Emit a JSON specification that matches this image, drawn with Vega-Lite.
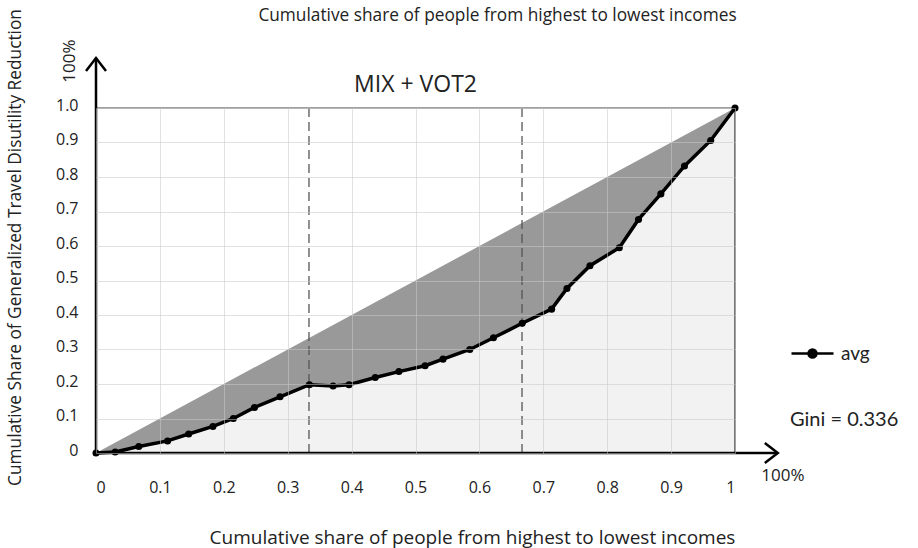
{
  "$schema": "https://vega.github.io/schema/vega-lite/v6.json",
  "width": 639,
  "height": 345,
  "autosize": {"type": "none"},
  "padding": {"left": 96, "top": 108, "right": 183, "bottom": 95},
  "background": "white",
  "config": {
    "view": {"stroke": null},
    "font": "Open Sans",
    "axis": {"labelColor": "#222", "titleColor": "#222", "labelOverlap": false}
  },
  "resolve": {"axis": {"x": "independent", "y": "independent"}},
  "datasets": {
    "curve": [
      {"share": 0, "cum": 0, "series": "avg"},
      {"share": 0.03, "cum": 0.003, "series": "avg"},
      {"share": 0.067, "cum": 0.019, "series": "avg"},
      {"share": 0.112, "cum": 0.035, "series": "avg"},
      {"share": 0.145, "cum": 0.055, "series": "avg"},
      {"share": 0.183, "cum": 0.077, "series": "avg"},
      {"share": 0.215, "cum": 0.1, "series": "avg"},
      {"share": 0.248, "cum": 0.132, "series": "avg"},
      {"share": 0.288, "cum": 0.163, "series": "avg"},
      {"share": 0.334, "cum": 0.198, "series": "avg"},
      {"share": 0.371, "cum": 0.194, "series": "avg"},
      {"share": 0.396, "cum": 0.198, "series": "avg"},
      {"share": 0.437, "cum": 0.219, "series": "avg"},
      {"share": 0.474, "cum": 0.236, "series": "avg"},
      {"share": 0.515, "cum": 0.253, "series": "avg"},
      {"share": 0.543, "cum": 0.272, "series": "avg"},
      {"share": 0.585, "cum": 0.3, "series": "avg"},
      {"share": 0.622, "cum": 0.334, "series": "avg"},
      {"share": 0.667, "cum": 0.376, "series": "avg"},
      {"share": 0.713, "cum": 0.417, "series": "avg"},
      {"share": 0.737, "cum": 0.477, "series": "avg"},
      {"share": 0.773, "cum": 0.543, "series": "avg"},
      {"share": 0.819, "cum": 0.595, "series": "avg"},
      {"share": 0.849, "cum": 0.677, "series": "avg"},
      {"share": 0.884, "cum": 0.751, "series": "avg"},
      {"share": 0.921, "cum": 0.832, "series": "avg"},
      {"share": 0.962, "cum": 0.906, "series": "avg"},
      {"share": 1, "cum": 1, "series": "avg"}
    ],
    "diag": [{"share": 0, "cum": 0}, {"share": 1, "cum": 1}],
    "thirds": [{"share": 0.3333}, {"share": 0.6667}]
  },
  "layer": [
    {
      "data": {"name": "diag"},
      "mark": {"type": "area", "color": "#999999"},
      "encoding": {
        "x": {
          "field": "share", "type": "quantitative",
          "scale": {"domain": [0, 1], "nice": false, "zero": true},
          "axis": {
            "orient": "bottom",
            "values": [0, 0.1, 0.2, 0.3, 0.4, 0.5, 0.6, 0.7, 0.8, 0.9, 1],
            "labelExpr": "datum.value == 0 ? '0' : datum.value == 1 ? '1' : format(datum.value, '.1f')",
            "domain": false, "ticks": false, "tickSize": 0,
            "grid": true, "gridColor": "#c8c8c8", "gridOpacity": 0.55, "gridWidth": 1,
            "labelFont": "Open Sans", "labelFontSize": 16, "labelPadding": 26, "labelOverlap": false,
            "zindex": 1,
            "title": "Cumulative share of people from highest to lowest incomes",
            "titleFont": "Open Sans", "titleFontSize": 19, "titleFontWeight": "normal",
            "titleX": 376, "titleY": 84, "titleBaseline": "middle", "titleAnchor": "middle", "titleAlign": "center"
          }
        },
        "y": {
          "field": "cum", "type": "quantitative",
          "scale": {"domain": [0, 1], "nice": false, "zero": true},
          "axis": {
            "orient": "left",
            "values": [0, 0.1, 0.2, 0.3, 0.4, 0.5, 0.6, 0.7, 0.8, 0.9, 1],
            "labelExpr": "datum.value == 0 ? '0' : format(datum.value, '.1f')",
            "domain": false, "ticks": false, "tickSize": 0,
            "grid": true, "gridColor": "#c8c8c8", "gridOpacity": 0.55, "gridWidth": 1,
            "labelFont": "Open Sans", "labelFontSize": 16, "labelPadding": 18, "labelOffset": -3, "labelOverlap": false,
            "zindex": 1,
            "title": "Cumulative Share of Generalized Travel Disutility Reduction",
            "titleFont": "Open Sans", "titleFontSize": 17.3, "titleFontWeight": "normal",
            "titleAngle": -90, "titleX": -81, "titleY": 139, "titleBaseline": "middle", "titleAlign": "center"
          }
        }
      }
    },
    {
      "data": {"name": "curve"},
      "mark": {"type": "area", "color": "#f2f2f2"},
      "encoding": {
        "x": {
          "field": "share", "type": "quantitative",
          "axis": {
            "orient": "top", "labels": false, "ticks": false, "domain": false, "grid": false,
            "title": "Cumulative share of people from highest to lowest incomes",
            "titleFont": "Open Sans", "titleFontSize": 17.3, "titleFontWeight": "normal",
            "titleX": 401, "titleY": -93, "titleBaseline": "middle", "titleAlign": "center"
          }
        },
        "y": {"field": "cum", "type": "quantitative", "axis": null}
      }
    },
    {
      "data": {"name": "thirds"},
      "mark": {"type": "rule", "color": "#555555", "strokeWidth": 1.3, "strokeDash": [9, 5]},
      "encoding": {
        "x": {"field": "share", "type": "quantitative", "axis": null},
        "y": {"datum": 0, "axis": null},
        "y2": {"datum": 1}
      }
    },
    {
      "data": {"values": [{}]},
      "mark": {"type": "rule", "color": "#808080", "strokeWidth": 1.6},
      "encoding": {"x": {"datum": 0, "axis": null}, "x2": {"datum": 1}, "y": {"datum": 1, "axis": null}}
    },
    {
      "data": {"values": [{}]},
      "mark": {"type": "rule", "color": "#555555", "strokeWidth": 1.6},
      "encoding": {"x": {"datum": 1, "axis": null}, "y": {"datum": 0, "axis": null}, "y2": {"datum": 1}}
    },
    {
      "data": {"values": [{}]},
      "mark": {"type": "rule", "color": "black", "strokeWidth": 2.5},
      "encoding": {"x": {"datum": 0, "axis": null}, "x2": {"datum": 1.065}, "y": {"datum": 0, "axis": null}}
    },
    {
      "data": {"values": [{}]},
      "mark": {"type": "rule", "color": "black", "strokeWidth": 2.5},
      "encoding": {"x": {"datum": 0, "axis": null}, "y": {"datum": 0, "axis": null}, "y2": {"datum": 1.143}}
    },
    {
      "data": {"values": [{}]},
      "mark": {"type": "point", "shape": "M-1.3,-1L0,0L-1.3,1", "filled": false, "stroke": "black", "strokeWidth": 2.5, "size": 400, "opacity": 1},
      "encoding": {"x": {"datum": 1.067, "axis": null}, "y": {"datum": 0, "axis": null}}
    },
    {
      "data": {"values": [{}]},
      "mark": {"type": "point", "shape": "M-1.3,-1L0,0L-1.3,1", "filled": false, "stroke": "black", "strokeWidth": 2.5, "size": 400, "angle": -90, "opacity": 1},
      "encoding": {"x": {"datum": 0, "axis": null}, "y": {"datum": 1.145, "axis": null}}
    },
    {
      "data": {"values": [{"label": "100%"}]},
      "mark": {"type": "text", "font": "Open Sans", "fontSize": 17, "color": "#222", "align": "center", "baseline": "middle"},
      "encoding": {"x": {"datum": 1.075, "axis": null}, "y": {"datum": -0.067, "axis": null}, "text": {"field": "label"}}
    },
    {
      "data": {"values": [{"label": "100%"}]},
      "mark": {"type": "text", "font": "Open Sans", "fontSize": 17, "color": "#222", "align": "center", "baseline": "middle", "angle": 270},
      "encoding": {"x": {"datum": -0.041, "axis": null}, "y": {"datum": 1.136, "axis": null}, "text": {"field": "label"}}
    },
    {
      "data": {"values": [{"label": "MIX + VOT2"}]},
      "mark": {"type": "text", "font": "Open Sans", "fontSize": 23, "color": "#222", "align": "center", "baseline": "middle"},
      "encoding": {"x": {"datum": 0.5, "axis": null}, "y": {"datum": 1.067, "axis": null}, "text": {"field": "label"}}
    },
    {
      "data": {"name": "curve"},
      "mark": {"type": "line", "strokeWidth": 3.5, "point": {"filled": true, "size": 50}},
      "encoding": {
        "x": {"field": "share", "type": "quantitative", "axis": null},
        "y": {"field": "cum", "type": "quantitative", "axis": null},
        "color": {
          "field": "series", "type": "nominal",
          "scale": {"domain": ["avg"], "range": ["black"]},
          "legend": {
            "orient": "none", "legendX": 694, "legendY": 223,
            "padding": 0,
            "symbolType": "M-1,0L1,0M0.19,0A0.19,0.19,0,1,1,-0.19,0A0.19,0.19,0,1,1,0.19,0Z",
            "symbolSize": 1764, "symbolStrokeWidth": 2.5,
            "symbolFillColor": "black", "symbolStrokeColor": "black",
            "labelFont": "Lato", "labelFontSize": 19, "labelColor": "#222", "labelOffset": 6,
            "title": "Gini = 0.336", "titleOrient": "bottom", "titlePadding": 46,
            "titleFont": "Lato", "titleFontSize": 20, "titleFontWeight": "normal", "titleColor": "#222"
          }
        }
      }
    }
  ]
}
